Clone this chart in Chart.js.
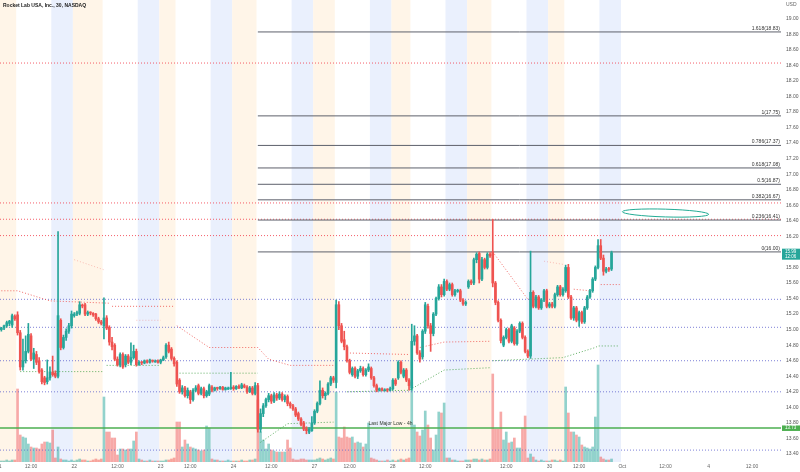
<!DOCTYPE html>
<html>
<head>
<meta charset="utf-8">
<script src="https://cdn.jsdelivr.net/npm/chart.js@4.4.0/dist/chart.umd.min.js"></script>
<style>
  html, body { margin: 0; padding: 0; background: #fff; }
  #chart { display: block; }
</style>
</head>
<body>
<canvas id="chart" width="800" height="472"></canvas>
<script>
// 30 min bars incl. extended hours, one array per day: [open, high, low, close]
const sep21 = [
  [15.00,15.03,14.98,15.02],[15.02,15.06,15.00,15.05],[15.05,15.11,15.03,15.09],[15.08,15.12,15.05,15.11],
  [15.06,15.20,15.03,15.18],[15.17,15.19,15.12,15.14],
  [15.19,15.23,14.93,14.96],[14.96,14.99,14.48,14.52],[14.52,14.88,14.48,14.60],[14.60,14.92,14.57,14.72],
  [14.72,15.08,14.70,14.94],[14.92,14.95,14.60,14.62],[14.62,14.76,14.50,14.70],[14.68,14.72,14.55,14.58],
  [14.60,14.64,14.44,14.46],[14.48,14.50,14.30,14.33],[14.38,14.40,14.29,14.32],[14.33,14.61,14.30,14.38],
  [14.38,14.52,14.35,14.45],
  [14.45,14.66,14.40,14.42],[14.44,14.47,14.38,14.40],[14.40,16.26,14.38,15.18],[15.12,15.14,14.74,14.77],
  [14.77,14.93,14.75,14.90],[14.90,15.01,14.86,14.98],[14.98,15.08,14.95,15.05],[15.05,15.24,15.02,15.20]
];
const sep22 = [
  [15.18,15.22,15.16,15.20],[15.20,15.24,15.18,15.22],[15.21,15.36,15.19,15.32],[15.31,15.33,15.28,15.30],
  [15.32,15.34,15.18,15.20],[15.20,15.24,15.18,15.22],[15.22,15.23,15.19,15.21],[15.21,15.22,15.17,15.19],
  [15.20,15.21,15.12,15.14],[15.14,15.16,15.08,15.10],[15.10,15.12,15.06,15.08],
  [15.05,15.41,14.88,15.15],[15.15,15.18,15.00,15.02],[15.03,15.05,14.80,14.84],[14.84,14.90,14.74,14.78],
  [14.80,14.82,14.60,14.62],[14.62,14.65,14.53,14.55],[14.55,14.70,14.52,14.68],[14.68,14.70,14.50,14.52],
  [14.55,14.68,14.52,14.66],[14.66,14.68,14.56,14.58],[14.58,14.83,14.55,14.64],[14.64,14.80,14.62,14.72],
  [14.72,14.75,14.53,14.55],
  [14.55,14.60,14.54,14.58],[14.58,14.59,14.55,14.57],[14.57,14.61,14.56,14.60],[14.60,14.61,14.57,14.58],
  [14.58,14.62,14.57,14.61],[14.60,14.61,14.58,14.59],[14.59,14.61,14.58,14.60],[14.60,14.61,14.57,14.58]
];
const sep23 = [
  [14.58,14.62,14.56,14.61],[14.61,14.66,14.60,14.64],[14.65,14.82,14.63,14.80],[14.80,14.84,14.70,14.72],
  [14.75,14.77,14.61,14.63],[14.63,14.65,14.53,14.56],
  [14.58,14.60,14.27,14.30],[14.35,14.37,14.18,14.20],[14.20,14.28,14.17,14.25],[14.25,14.27,14.13,14.15],
  [14.15,14.25,14.12,14.22],[14.20,14.22,14.05,14.10],[14.10,14.24,14.08,14.22],[14.22,14.28,14.20,14.25],
  [14.28,14.30,14.16,14.18],[14.18,14.26,14.16,14.24],[14.24,14.26,14.12,14.15],[14.15,14.22,14.13,14.20],
  [14.17,14.30,14.15,14.28],
  [14.26,14.28,14.20,14.22],[14.22,14.26,14.21,14.25],[14.25,14.26,14.22,14.24],[14.24,14.27,14.23,14.26],
  [14.26,14.27,14.22,14.23],[14.23,14.26,14.22,14.25],[14.24,14.26,14.23,14.25],[14.24,14.45,14.23,14.26]
];
const sep24 = [
  [14.26,14.28,14.22,14.24],[14.24,14.28,14.23,14.27],[14.27,14.29,14.24,14.25],[14.25,14.31,14.24,14.29],
  [14.28,14.30,14.25,14.26],[14.26,14.28,14.18,14.20],[14.20,14.27,14.19,14.25],[14.25,14.27,14.16,14.18],
  [14.18,14.32,14.16,14.28],
  [14.28,14.31,13.68,13.72],[13.72,13.98,13.68,13.92],[13.92,14.05,13.88,14.02],[14.02,14.12,14.00,14.10],
  [14.10,14.18,14.07,14.15],[14.15,14.17,14.05,14.08],[14.08,14.19,14.06,14.16],[14.16,14.18,14.09,14.12],
  [14.12,14.20,14.10,14.17],[14.17,14.19,14.08,14.10],[14.10,14.16,14.07,14.14],[14.14,14.16,14.02,14.05],
  [14.05,14.07,13.99,14.02],
  [14.02,14.04,13.96,13.98],[13.98,14.00,13.88,13.90],[13.92,13.94,13.83,13.85],[13.85,13.87,13.76,13.78],
  [13.80,13.82,13.70,13.72],[13.72,13.75,13.66,13.70],[13.68,13.74,13.66,13.72],[13.70,13.88,13.69,13.80]
];
const sep27 = [
  [13.80,13.97,13.78,13.95],[13.95,14.07,13.93,14.05],[14.05,14.34,14.03,14.22],[14.22,14.25,14.12,14.15],
  [14.15,14.20,14.10,14.18],[14.18,14.32,14.16,14.30],[14.30,14.40,14.28,14.38],[14.38,14.40,14.32,14.35],
  [14.32,15.38,14.25,15.32],[15.32,15.36,15.00,15.05],[15.05,15.08,14.83,14.85],[14.87,14.98,14.74,14.78],
  [14.78,14.80,14.58,14.60],[14.60,14.62,14.43,14.45],[14.42,14.52,14.40,14.50],[14.50,14.52,14.38,14.40],
  [14.40,14.49,14.37,14.47],[14.47,14.53,14.45,14.50],[14.50,14.52,14.40,14.42],[14.42,14.50,14.40,14.48],
  [14.48,14.56,14.46,14.52],
  [14.50,14.52,14.36,14.38],[14.38,14.40,14.26,14.28],[14.28,14.30,14.20,14.22],[14.22,14.25,14.21,14.24],
  [14.24,14.25,14.21,14.22],[14.22,14.24,14.21,14.23],[14.23,14.24,14.20,14.22],[14.22,14.26,14.21,14.24]
];
const sep28 = [
  [14.24,14.37,14.22,14.35],[14.35,14.37,14.28,14.30],[14.38,14.60,14.36,14.58],[14.58,14.60,14.43,14.45],
  [14.40,14.50,14.38,14.48],[14.48,14.50,14.33,14.35],[14.35,14.37,14.22,14.28],
  [14.25,15.07,14.22,14.85],[14.85,15.05,14.80,14.92],[14.92,14.94,14.68,14.70],[14.70,14.73,14.58,14.62],
  [14.65,15.00,14.62,14.98],[14.98,15.35,14.95,15.32],[15.30,15.33,15.02,15.05],[15.05,15.08,14.72,14.95],
  [14.95,15.22,14.92,15.20],[15.20,15.42,15.18,15.40],[15.40,15.58,15.38,15.55],[15.55,15.58,15.42,15.45],
  [15.45,15.65,15.43,15.62],
  [15.62,15.64,15.50,15.52],[15.52,15.60,15.50,15.58],[15.58,15.60,15.43,15.45],[15.45,15.52,15.43,15.50],
  [15.50,15.52,15.48,15.50],[15.50,15.52,15.36,15.38],[15.38,15.40,15.31,15.33],[15.33,15.37,15.31,15.35]
];
const sep29 = [
  [15.55,15.64,15.53,15.62],[15.62,15.64,15.58,15.60],[15.60,15.92,15.58,15.90],[15.90,15.99,15.86,15.97],
  [15.98,16.00,15.60,15.65],[15.65,15.93,15.63,15.90],[15.90,15.92,15.78,15.80],[15.80,15.99,15.78,15.97],
  [15.97,15.99,15.93,15.95],
  [16.00,16.42,15.55,15.60],[15.60,15.62,15.32,15.35],[15.35,15.37,15.10,15.12],[15.12,15.14,14.83,14.86],
  [14.80,14.92,14.78,14.90],[14.90,15.02,14.88,15.00],[15.00,15.02,14.83,14.85],[14.85,15.07,14.83,15.05],
  [15.02,15.04,14.80,14.82],[14.82,15.00,14.80,14.98],[14.98,15.10,14.96,15.08],[15.08,15.10,14.88,14.90],
  [14.90,14.92,14.70,14.72],
  [14.72,14.74,14.64,14.66],[14.66,16.01,14.63,15.48],[15.48,15.50,15.28,15.30],[15.30,15.44,15.28,15.42],
  [15.42,15.44,15.26,15.28],[15.28,15.40,15.26,15.38],[15.38,15.52,15.36,15.50],[15.50,15.52,15.28,15.30]
];
const sep30 = [
  [15.30,15.35,15.28,15.33],[15.33,15.35,15.28,15.30],[15.30,15.47,15.28,15.45],[15.45,15.57,15.43,15.55],
  [15.55,15.57,15.43,15.45],[15.45,15.54,15.43,15.52],
  [15.50,15.83,15.48,15.80],[15.80,15.84,15.40,15.42],[15.42,15.44,15.13,15.15],[15.15,15.30,15.12,15.28],
  [15.28,15.30,15.10,15.12],[15.12,15.24,15.04,15.22],[15.22,15.24,15.08,15.10],[15.10,15.30,15.08,15.28],
  [15.28,15.44,15.26,15.42],[15.42,15.52,15.40,15.50],[15.50,15.67,15.48,15.65],[15.65,15.82,15.63,15.80],
  [15.80,16.16,15.78,16.08],
  [16.08,16.16,15.90,15.92],[15.92,15.96,15.70,15.75],[15.75,15.80,15.73,15.78],[15.78,15.80,15.75,15.77],
  [15.78,16.01,15.76,15.99]
];

// volume per bar, thousand shares
const sep21Vol = [10,10,20,10,20,20, 730,270,250,240,180,150,140,140,130,180,200,200,190, 320,40,150,30,20,20,10,20];
const sep22Vol = [10,20,30,20,20,10,10,20,30,20,30, 650,300,300,240,240,70,130,130,120,130,130,210,300, 30,20,10,10,20,10,10,10];
const sep23Vol = [10,10,20,20,30,40, 400,400,150,220,180,150,140,130,120,110,120,360,340, 30,20,20,10,10,10,20,10];
const sep24Vol = [10,10,10,20,10,10,20,20,30, 620,300,220,130,180,120,110,100,100,100,100,220,140, 30,20,20,30,30,20,20,20];
const sep27Vol = [20,30,40,30,20,30,40,30, 700,250,240,350,250,240,250,190,200,190,150,180,390, 40,30,20,10,10,10,20,10];
const sep28Vol = [20,10,20,30,20,30,40, 800,370,300,260,320,510,370,240,120,270,500,490,590, 40,40,20,20,10,10,10,20];
const sep29Vol = [20,20,30,30,20,30,20,20,30, 880,330,330,500,220,300,190,200,240,140,140,340,460, 40,80,50,20,10,20,10,10];
const sep30Vol = [10,20,20,10,20,10, 750,490,300,300,270,250,170,150,140,130,150,450,970, 50,30,20,20,30];

// bar index where each day's data begins, and session bounds [pre, regular, after, last]
const dayStart = [0, 27, 59, 86, 116, 145, 173, 203];
const sessions = [
  [-1, 6, 19, 26], [27, 38, 51, 58], [59, 65, 78, 85], [86, 95, 108, 115],
  [116, 124, 137, 144], [145, 152, 165, 172], [173, 182, 195, 202], [203, 209, 222, 229]
];

// x axis labels: [bar index, text]
const timeTicks = [
  [-1, '21'], [11, '12:00'], [27, '22'], [43, '12:00'], [59, '23'], [70, '12:00'],
  [86, '24'], [100, '12:00'], [116, '27'], [129, '12:00'], [145, '28'], [157, '12:00'],
  [173, '29'], [187, '12:00'], [203, '30'], [214, '12:00'], [230, 'Oct'], [246, '12:00'],
  [262, '4'], [278, '12:00']
];

// drawn levels
const redLevels = [18.43, 16.63, 16.42, 16.21];
const blueLevels = [15.39, 15.03, 14.60, 14.20, 13.45];
const majorLow = 13.735;
const fibStart = 95;
const fibRatios = ['1.618', '1', '0.786', '0.618', '0.5', '0.382', '0.236', '0'];
const fibPrices = [18.83, 17.75, 17.37, 17.08, 16.87, 16.67, 16.41, 16.00];

// trailing stop style dotted lines, [bar, price], null = break
const upperStop = [
  [0,15.50],[6,15.50],[18,15.37],[40,15.34], null,
  [41,15.30],[64,15.30], null,
  [65,15.05],[77,14.77],[95,14.77],[99,14.62],[107,14.54],[123,14.54], null,
  [128,14.70],[151,14.68], null,
  [155,14.77],[164,14.84],[181,14.85], null,
  [182,16.00],[195,15.39],[201,15.39], null,
  [212,15.52],[218,15.50], null,
  [222,15.58],[229,15.58]
];
const upperFaint = [[27,15.90],[38,15.77], null, [50,15.12],[59,15.12], null, [201,15.88],[208,15.84]];
const lowerStop = [
  [7,14.46],[38,14.46], null,
  [39,14.54],[59,14.54], null,
  [66,14.44],[95,14.44], null,
  [96,13.55],[106,13.79],[123,13.81], null,
  [128,14.20],[151,14.22],[164,14.48],[181,14.51], null,
  [182,14.60],[195,14.62],[208,14.64],[220,14.77],[221,14.79],[229,14.79]
];

const lastPrice = 15.99;
const countdown = '12:06';
const xMin = -0.5, xMax = 288.76;

// ---------------------------------------------------------------

const up = '#26a69a', down = '#ef5350';
const dayCandles = [sep21, sep22, sep23, sep24, sep27, sep28, sep29, sep30];
const dayVolumes = [sep21Vol, sep22Vol, sep23Vol, sep24Vol, sep27Vol, sep28Vol, sep29Vol, sep30Vol];

let bars = [];
dayCandles.forEach((day, k) => {
  day.forEach((b, j) => {
    bars.push({ i: dayStart[k] + j, o: b[0], h: b[1], l: b[2], c: b[3], v: dayVolumes[k][j] });
  });
});

function bodyRange(b) {
  if (Math.abs(b.c - b.o) < 0.013) return [b.o - 0.0065, b.o + 0.0065];
  return [b.o, b.c];
}

function segments(points) {
  let out = [], cur = [];
  points.forEach((p) => {
    if (p === null) { if (cur.length) out.push(cur); cur = []; }
    else cur.push({ x: p[0], y: p[1] });
  });
  if (cur.length) out.push(cur);
  return out;
}

function lineSet(data, color, dash, width, order) {
  return {
    type: 'line', data: data, borderColor: color, borderWidth: width || 1,
    borderDash: dash || [], pointRadius: 0, fill: false, tension: 0, order: order || 5,
  };
}

let datasets = [
  {
    type: 'bar', label: 'body', grouped: false, order: 0, barThickness: 2,
    data: bars.map((b) => ({ x: b.i, y: bodyRange(b) })),
    backgroundColor: bars.map((b) => (b.c >= b.o ? up : down)),
  },
  {
    type: 'bar', label: 'wick', grouped: false, order: 1, barThickness: 1,
    data: bars.map((b) => ({ x: b.i, y: [b.l, b.h] })),
    backgroundColor: bars.map((b) => (b.c >= b.o ? up : down)),
  },
  {
    type: 'bar', label: 'volume', grouped: false, order: 20, barThickness: 2, yAxisID: 'yv',
    data: bars.map((b) => ({ x: b.i, y: b.v })),
    backgroundColor: bars.map((b) => (b.c >= b.o ? 'rgba(38,166,154,0.5)' : 'rgba(239,83,80,0.5)')),
  },
];

redLevels.forEach((p) => datasets.push(lineSet([{ x: xMin, y: p }, { x: xMax, y: p }], 'rgba(242,54,69,0.8)', [1, 2], 1, 6)));
blueLevels.forEach((p) => datasets.push(lineSet([{ x: xMin, y: p }, { x: xMax, y: p }], 'rgba(92,96,205,0.8)', [1, 2], 1, 6)));
fibPrices.forEach((p) => datasets.push(lineSet([{ x: fibStart, y: p }, { x: xMax, y: p }], '#5d606b', [], 1, 4)));
datasets.push(lineSet([{ x: xMin, y: majorLow }, { x: xMax, y: majorLow }], '#4caf50', [], 1.5, 3));
segments(upperStop).forEach((s) => datasets.push(lineSet(s, 'rgba(239,83,80,0.85)', [1, 2], 1, 5)));
segments(upperFaint).forEach((s) => datasets.push(lineSet(s, 'rgba(239,83,80,0.35)', [1, 2], 1, 5)));
segments(lowerStop).forEach((s) => datasets.push(lineSet(s, 'rgba(67,160,71,0.85)', [1, 2], 1, 5)));

const decorations = {
  id: 'decorations',
  beforeDatasetsDraw(chart) {
    const { ctx, chartArea: a, scales: { x } } = chart;
    ctx.save();
    sessions.forEach((s) => {
      let x0 = x.getPixelForValue(s[0] - 0.5), x1 = x.getPixelForValue(s[1] - 0.5);
      let x2 = x.getPixelForValue(s[2] - 0.5), x3 = x.getPixelForValue(s[3] + 0.5);
      ctx.fillStyle = '#fff5e8';
      ctx.fillRect(Math.max(x0, a.left), a.top, x1 - Math.max(x0, a.left), a.bottom - a.top);
      ctx.fillStyle = '#eaf0fd';
      ctx.fillRect(x2, a.top, x3 - x2, a.bottom - a.top);
    });
    ctx.restore();
  },
  afterDatasetsDraw(chart) {
    const { ctx, chartArea: a, scales: { x, y } } = chart;
    ctx.save();
    // hand drawn ellipse annotation
    let cx = x.getPixelForValue(246), cy = y.getPixelForValue(16.50);
    let rx = x.getPixelForValue(262) - cx, ry = y.getPixelForValue(16.50) - y.getPixelForValue(16.55);
    ctx.strokeStyle = '#22ab94';
    ctx.lineWidth = 1;
    ctx.beginPath();
    ctx.ellipse(cx, cy, rx, ry, 0.03, 0, Math.PI * 2);
    ctx.stroke();
    // fib labels
    ctx.font = '5px "Liberation Sans"';
    ctx.fillStyle = '#333';
    ctx.textAlign = 'right';
    ctx.textBaseline = 'bottom';
    fibPrices.forEach((p, k) => {
      ctx.fillText(fibRatios[k] + '(' + p.toFixed(2) + ')', a.right - 1, y.getPixelForValue(p) - 1);
    });
    ctx.textAlign = 'left';
    ctx.fillStyle = '#2f3b2f';
    ctx.fillText('Last Major Low - 4h', x.getPixelForValue(136), y.getPixelForValue(majorLow) - 1.5);
    ctx.restore();
  },
  afterDraw(chart) {
    const { ctx, chartArea: a, scales: { x, y } } = chart;
    ctx.save();
    ctx.font = '5px "Liberation Sans"';
    ctx.fillStyle = '#666';
    ctx.textAlign = 'center';
    ctx.textBaseline = 'middle';
    timeTicks.forEach((t) => ctx.fillText(t[1], x.getPixelForValue(t[0]), a.bottom + 5));
    // price scale labels from the y scale's own ticks
    ctx.textAlign = 'left';
    ctx.fillStyle = '#555';
    y.ticks.forEach((t) => {
      if (t.value < 19.1) ctx.fillText(t.value.toFixed(2), a.right + 5, y.getPixelForValue(t.value));
    });
    // title and currency
    ctx.fillStyle = '#222';
    ctx.font = 'bold 5px "Liberation Sans"';
    ctx.fillText('Rocket Lab USA, Inc., 30, NASDAQ', 3, 6);
    ctx.font = '5px "Liberation Sans"';
    ctx.fillStyle = '#666';
    ctx.fillText('USD', a.right + 5, 5);
    // last price box
    let py = y.getPixelForValue(lastPrice);
    ctx.fillStyle = up;
    ctx.fillRect(a.right + 1, py - 4, 18, 11);
    ctx.fillStyle = '#fff';
    ctx.font = '4.5px "Liberation Sans"';
    ctx.fillText(lastPrice.toFixed(2), a.right + 4, py - 0.5);
    ctx.fillText(countdown, a.right + 4, py + 4);
    // major low box
    let gy = y.getPixelForValue(majorLow);
    ctx.fillStyle = '#4caf50';
    ctx.fillRect(a.right + 1, gy - 2.5, 18, 5.5);
    ctx.fillStyle = '#fff';
    ctx.fillText(majorLow.toFixed(2), a.right + 4, gy + 0.3);
    ctx.restore();
  },
};

Chart.defaults.font.family = 'Liberation Sans';
new Chart(document.getElementById('chart'), {
  type: 'bar',
  data: { datasets: datasets },
  options: {
    responsive: false,
    animation: false,
    devicePixelRatio: 1,
    layout: { padding: { top: 0, left: 0, right: 0, bottom: 10 } },
    plugins: { legend: { display: false }, tooltip: { enabled: false } },
    scales: {
      x: { type: 'linear', min: xMin, max: xMax, offset: false, display: false },
      y: {
        position: 'right', min: 13.297, max: 19.241,
        afterFit: (scale) => { scale.width = 19; },
        grid: { display: false, drawTicks: false },
        border: { display: false },
        ticks: { display: false, stepSize: 0.2, includeBounds: false },
      },
      yv: { display: false, min: 0, max: 4620 },
    },
  },
  plugins: [decorations],
});
</script>
</body>
</html>
